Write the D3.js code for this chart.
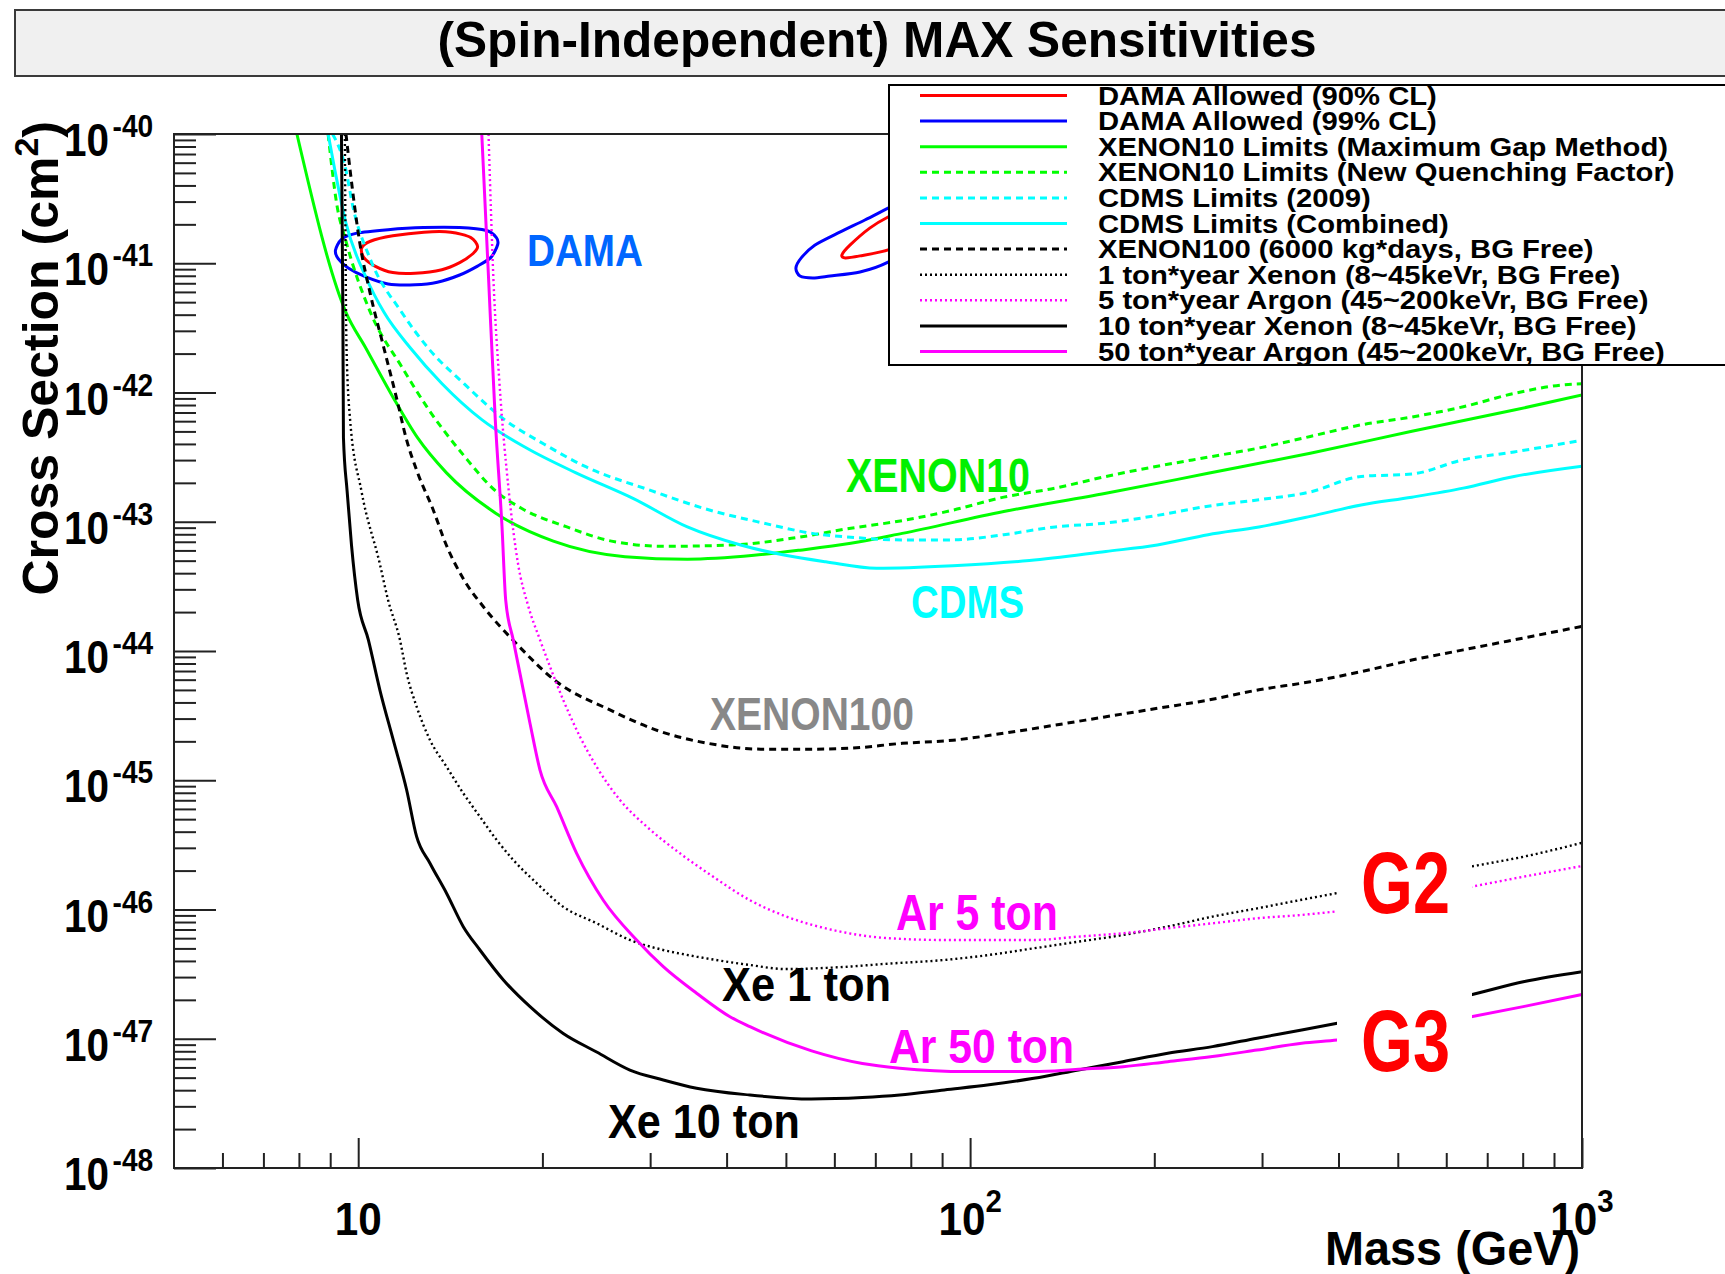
<!DOCTYPE html>
<html>
<head>
<meta charset="utf-8">
<title>(Spin-Independent) MAX Sensitivities</title>
<script src="https://cdn.jsdelivr.net/npm/d3@7"></script>
<style>
html,body{margin:0;padding:0;background:#fff;}
svg{display:block;}
text{font-family:"Liberation Sans",Arial,Helvetica,sans-serif;font-weight:bold;}
</style>
</head>
<body>
<svg id="chart" width="1725" height="1274"></svg>
<script>
// ================= DATA (mass in GeV, cross section in cm^2) =================
const titleText = "(Spin-Independent) MAX Sensitivities";
const xAxisTitle = "Mass (GeV)";
const yAxisTitleMain = "Cross Section (cm";
const yAxisTitleSup = "2";

const xDomain = [5, 1000];
const yDomain = [1e-48, 1e-40];
const xMajorTicks = [10, 100, 1000];
const xMajorLabels = ["10", "10", "10"];
const xMajorSups = ["", "2", "3"];
const xMinorTicks = [6, 7, 8, 9, 20, 30, 40, 50, 60, 70, 80, 90, 200, 300, 400, 500, 600, 700, 800, 900];
const yExponents = [-40, -41, -42, -43, -44, -45, -46, -47, -48];

// DAMA allowed regions (closed contours)
const damaLow90Mass  = [10.13, 10.47, 11.39, 12.81, 14.17, 15.28, 15.67, 15.41, 14.65, 13.70, 12.39, 11.39, 10.65, 10.21];
const damaLow90Sigma = [1.31e-41, 1.48e-41, 1.63e-41, 1.74e-41, 1.74e-41, 1.58e-41, 1.35e-41, 1.19e-41, 1.01e-41, 8.91e-42, 8.36e-42, 8.47e-42, 9.51e-42, 1.11e-41];
const damaLow99Mass  = [9.18, 9.39, 9.95, 11.19, 12.79, 14.65, 16.21, 16.82, 16.90, 16.48, 15.67, 14.65, 13.47, 12.39, 11.19, 10.29, 9.63, 9.28];
const damaLow99Sigma = [1.26e-41, 1.53e-41, 1.71e-41, 1.82e-41, 1.89e-41, 1.89e-41, 1.79e-41, 1.58e-41, 1.39e-41, 1.11e-41, 9.51e-42, 8.11e-42, 7.13e-42, 6.82e-42, 6.92e-42, 7.85e-42, 9.20e-42, 1.08e-41];
const damaHigh90Mass  = [61.73, 63.62, 68.55, 73.45, 81.28, 83.18, 79.43, 73.45, 66.07, 62.52];
const damaHigh90Sigma = [1.16e-41, 1.38e-41, 1.87e-41, 2.28e-41, 2.82e-41, 2.40e-41, 1.58e-41, 1.27e-41, 1.14e-41, 1.10e-41];
const damaHigh99Mass  = [51.92, 52.97, 55.72, 61.24, 67.30, 73.45, 85.11, 91.20, 91.20, 85.11, 73.45, 66.07, 59.02, 55.34, 52.72];
const damaHigh99Sigma = [9.18e-42, 1.10e-41, 1.38e-41, 1.74e-41, 2.16e-41, 2.67e-41, 3.80e-41, 3.98e-41, 2.82e-41, 1.58e-41, 1.02e-41, 8.55e-42, 7.96e-42, 7.69e-42, 7.96e-42];

// XENON10 limits (maximum gap method)
const xe10Mass  = [7.94, 9.55, 10.30, 11.38, 12.50, 13.93, 16.75, 20.84, 27.29, 34.51, 44.36, 52.72, 63.83, 77.45, 113.5, 166.7, 244.9, 359.7, 527.2, 774.5, 1000];
const xe10Sigma = [1.0e-40, 4.17e-42, 2.19e-42, 9.33e-43, 4.47e-43, 2.40e-43, 1.17e-43, 7.08e-44, 5.37e-44, 5.13e-44, 5.50e-44, 6.03e-44, 6.81e-44, 8.13e-44, 1.20e-43, 1.66e-43, 2.37e-43, 3.39e-43, 5.01e-43, 7.31e-43, 9.55e-43];

// XENON10 limits (new quenching factor)
const xe10nqMass  = [8.93, 9.23, 9.55, 10.47, 11.78, 13.03, 14.89, 16.75, 18.54, 21.93, 25.94, 31.70, 40.83, 52.48, 63.83, 77.45, 93.76, 113.5, 137.7, 166.7, 202.3, 244.9, 296.5, 359.7, 435.5, 527.2, 639.7, 774.5, 937.6, 1000];
const xe10nqSigma = [1.0e-40, 2.82e-41, 1.48e-41, 4.17e-42, 1.58e-42, 7.41e-43, 3.24e-43, 1.74e-43, 1.26e-43, 9.12e-44, 7.08e-44, 6.46e-44, 6.61e-44, 7.59e-44, 8.91e-44, 1.02e-43, 1.23e-43, 1.55e-43, 1.82e-43, 2.24e-43, 2.69e-43, 3.16e-43, 3.72e-43, 4.57e-43, 5.62e-43, 6.46e-43, 7.76e-43, 9.84e-43, 1.15e-42, 1.17e-42];

// CDMS limits (2009)
const cdms09Mass  = [9.08, 9.55, 9.79, 10.47, 11.78, 13.03, 14.89, 17.34, 20.14, 23.44, 30.13, 36.90, 45.92, 55.21, 63.83, 77.45, 93.76, 113.5, 137.7, 166.7, 202.3, 244.9, 296.5, 359.7, 435.5, 527.2, 639.7, 774.5, 1000];
const cdms09Sigma = [1.0e-40, 5.25e-41, 2.82e-41, 1.07e-41, 4.17e-42, 2.19e-42, 1.17e-42, 6.17e-43, 3.98e-43, 2.69e-43, 1.74e-43, 1.26e-43, 9.77e-44, 8.13e-44, 7.59e-44, 7.24e-44, 7.24e-44, 7.94e-44, 9.12e-44, 9.77e-44, 1.12e-43, 1.32e-43, 1.48e-43, 1.70e-43, 2.24e-43, 2.34e-43, 3.02e-43, 3.47e-43, 4.27e-43];

// CDMS limits (combined)
const cdmsMass  = [8.93, 9.16, 9.55, 10.30, 11.02, 12.19, 13.71, 15.92, 18.84, 22.65, 28.18, 34.51, 42.17, 49.89, 58.08, 70.31, 93.76, 125.0, 166.7, 202.3, 244.9, 296.5, 359.7, 435.5, 527.2, 639.7, 774.5, 1000];
const cdmsSigma = [1.0e-40, 5.25e-41, 2.04e-41, 7.76e-42, 4.17e-42, 2.19e-42, 1.17e-42, 6.17e-43, 3.72e-43, 2.40e-43, 1.51e-43, 9.12e-44, 6.61e-44, 5.50e-44, 4.90e-44, 4.37e-44, 4.57e-44, 5.01e-44, 5.89e-44, 6.61e-44, 7.94e-44, 9.12e-44, 1.10e-43, 1.35e-43, 1.55e-43, 1.82e-43, 2.24e-43, 2.69e-43];

// XENON100 (6000 kg*days, BG free)
const xe100Mass  = [9.55, 9.70, 10.05, 10.47, 11.02, 11.59, 11.97, 12.50, 13.24, 13.93, 14.89, 16.03, 18.20, 21.13, 25.59, 30.97, 37.50, 45.50, 55.08, 63.83, 77.45, 93.76, 113.5, 137.7, 166.7, 202.3, 244.9, 296.5, 359.7, 435.5, 527.2, 639.7, 774.5, 1000];
const xe100Sigma = [1.0e-40, 5.25e-41, 1.48e-41, 5.75e-42, 2.19e-42, 8.51e-43, 4.47e-43, 2.40e-43, 1.26e-43, 6.61e-44, 3.55e-44, 2.19e-44, 1.12e-44, 5.75e-45, 3.56e-45, 2.41e-45, 1.92e-45, 1.74e-45, 1.74e-45, 1.77e-45, 1.93e-45, 2.04e-45, 2.31e-45, 2.67e-45, 3.10e-45, 3.60e-45, 4.17e-45, 5.01e-45, 5.78e-45, 6.92e-45, 8.51e-45, 1.02e-44, 1.22e-44, 1.55e-44];

// 1 ton*year Xenon
const xe1tMass  = [9.51, 9.57, 9.70, 10.12, 10.84, 11.19, 11.70, 12.00, 12.46, 13.10, 13.95, 14.85, 15.81, 16.84, 17.92, 19.57, 21.63, 24.53, 27.80, 31.52, 35.73, 43.67, 50.00, 60.67, 73.45, 90.78, 107.4, 127.1, 150.3, 177.8, 210.4, 248.9, 294.4, 348.3, 394.5, 659.2, 805.4, 1000];
const xe1tSigma = [1.0e-40, 2.19e-42, 6.17e-43, 1.74e-43, 4.79e-44, 2.48e-44, 1.22e-44, 6.71e-45, 3.71e-45, 2.05e-45, 1.27e-45, 7.93e-46, 5.22e-46, 3.45e-46, 2.42e-46, 1.60e-46, 1.05e-46, 7.82e-47, 5.81e-47, 4.86e-47, 4.32e-47, 3.72e-47, 3.46e-47, 3.57e-47, 3.81e-47, 4.07e-47, 4.45e-47, 5.01e-47, 5.64e-47, 6.35e-47, 7.38e-47, 8.81e-47, 1.02e-46, 1.19e-46, 1.33e-46, 2.15e-46, 2.57e-46, 3.28e-46];

// 5 ton*year Argon
const ar5tMass  = [16.33, 16.63, 17.02, 17.62, 18.24, 18.94, 19.82, 20.58, 21.63, 23.04, 24.53, 26.78, 29.61, 33.56, 38.05, 43.67, 50.00, 60.67, 73.45, 90.78, 127.1, 150.3, 177.8, 210.4, 248.9, 294.4, 348.3, 394.5, 659.2, 805.4, 1000];
const ar5tSigma = [1.0e-40, 7.76e-42, 1.17e-42, 1.74e-43, 4.79e-44, 2.27e-44, 1.22e-44, 7.57e-45, 4.18e-45, 2.17e-45, 1.27e-45, 7.03e-46, 4.38e-46, 2.72e-46, 1.79e-46, 1.18e-46, 8.85e-47, 6.82e-47, 6.00e-47, 5.81e-47, 5.81e-47, 6.17e-47, 6.55e-47, 7.16e-47, 7.82e-47, 8.55e-47, 9.08e-47, 9.64e-47, 1.50e-46, 1.80e-46, 2.17e-46];

// 10 ton*year Xenon
const xe10tMass  = [9.39, 9.44, 9.46, 9.59, 9.75, 9.98, 10.39, 10.85, 11.41, 12.00, 12.46, 13.10, 13.95, 14.85, 15.81, 17.27, 19.09, 21.63, 24.53, 27.80, 31.52, 35.73, 43.67, 55.00, 66.68, 76.74, 90.78, 107.4, 127.1, 150.3, 177.8, 210.4, 248.9, 294.4, 348.3, 398.1, 659.2, 805.4, 1000];
const xe10tSigma = [1.0e-40, 4.17e-42, 4.47e-43, 1.74e-43, 6.61e-44, 2.48e-44, 1.22e-44, 4.99e-45, 2.05e-45, 8.41e-46, 3.66e-46, 2.28e-46, 1.33e-46, 7.36e-47, 4.86e-47, 2.85e-47, 1.77e-47, 1.10e-47, 7.90e-48, 5.73e-48, 4.80e-48, 4.14e-48, 3.67e-48, 3.42e-48, 3.51e-48, 3.67e-48, 4.02e-48, 4.40e-48, 4.94e-48, 5.74e-48, 6.65e-48, 7.73e-48, 8.69e-48, 1.01e-47, 1.17e-47, 1.32e-47, 2.19e-47, 2.77e-47, 3.30e-47];

// 50 ton*year Argon
const ar50tMass  = [15.92, 16.33, 16.75, 17.18, 17.42, 17.92, 18.38, 19.09, 19.82, 21.10, 22.75, 25.15, 28.51, 31.52, 35.73, 40.51, 43.67, 55.08, 66.68, 76.74, 98.86, 127.1, 150.3, 177.8, 210.4, 248.9, 294.4, 348.3, 398.1, 659.2, 805.4, 1000];
const ar50tSigma = [1.0e-40, 7.76e-42, 6.17e-43, 9.12e-44, 2.48e-44, 1.22e-44, 6.71e-45, 2.75e-45, 1.20e-45, 6.24e-46, 2.72e-46, 1.18e-46, 5.81e-47, 3.61e-47, 2.25e-47, 1.48e-47, 1.24e-47, 8.05e-48, 6.43e-48, 5.92e-48, 5.57e-48, 5.57e-48, 5.81e-48, 6.08e-48, 6.65e-48, 7.28e-48, 8.18e-48, 9.23e-48, 9.77e-48, 1.48e-47, 1.78e-47, 2.20e-47];

const legendLabels = [
  "DAMA Allowed (90% CL)",
  "DAMA Allowed (99% CL)",
  "XENON10 Limits (Maximum Gap Method)",
  "XENON10 Limits (New Quenching Factor)",
  "CDMS Limits (2009)",
  "CDMS Limits (Combined)",
  "XENON100 (6000 kg*days, BG Free)",
  "1 ton*year Xenon (8~45keVr, BG Free)",
  "5 ton*year Argon (45~200keVr, BG Free)",
  "10 ton*year Xenon (8~45keVr, BG Free)",
  "50 ton*year Argon (45~200keVr, BG Free)"
];
const curveLabels = ["DAMA", "XENON10", "CDMS", "XENON100", "Ar 5 ton", "Xe 1 ton", "Ar 50 ton", "Xe 10 ton"];
const groupLabels = ["G2", "G3"];

// ================= STYLES / LAYOUT =================
const RED = "#ff0000", BLUE = "#0000ff", GREEN = "#00ff00", CYAN = "#00ffff", MAG = "#ff00ff", BLK = "#000000";
const lineStyles = [
  {color: RED,   width: 3,   dash: null},
  {color: BLUE,  width: 3,   dash: null},
  {color: GREEN, width: 3,   dash: null},
  {color: GREEN, width: 3,   dash: "7,5"},
  {color: CYAN,  width: 3,   dash: "7,5"},
  {color: CYAN,  width: 3,   dash: null},
  {color: BLK,   width: 3,   dash: "7,5"},
  {color: BLK,   width: 2.4, dash: "2,3"},
  {color: MAG,   width: 2.4, dash: "2,3"},
  {color: BLK,   width: 3,   dash: null},
  {color: MAG,   width: 3,   dash: null}
];

const X0 = 174, X1 = 1582, Y0 = 134, Y1 = 1168;
const svg = d3.select("#chart");
const x = d3.scaleLog().domain(xDomain).range([X0, X1]);
const y = d3.scaleLog().domain(yDomain).range([Y1, Y0]);
const zip = (a, b) => a.map((v, i) => [v, b[i]]);

// ---- title box ----
svg.append("rect").attr("x", 15).attr("y", 10).attr("width", 1740).attr("height", 66)
  .attr("fill", "#f0f0f0").attr("stroke", "#3a3a3a").attr("stroke-width", 2);
svg.append("text").attr("x", 877).attr("y", 57).attr("text-anchor", "middle")
  .attr("font-size", 50).attr("fill", "#000")
  .attr("textLength", 879).attr("lengthAdjust", "spacingAndGlyphs").text(titleText);

// ---- clip ----
svg.append("defs").append("clipPath").attr("id", "plotclip")
  .append("rect").attr("x", X0).attr("y", Y0).attr("width", X1 - X0).attr("height", Y1 - Y0);

const plot = svg.append("g").attr("clip-path", "url(#plotclip)");
const openLine = d3.line().x(d => x(d[0])).y(d => y(d[1])).curve(d3.curveMonotoneX);
const closedLine = d3.line().x(d => x(d[0])).y(d => y(d[1])).curve(d3.curveCardinalClosed.tension(0.2));

function styled(path, st) {
  path.attr("fill", "none").attr("stroke", st.color).attr("stroke-width", st.width)
    .attr("stroke-linejoin", "round");
  if (st.dash) path.attr("stroke-dasharray", st.dash);
  return path;
}

// DAMA contours
[[damaLow99Mass, damaLow99Sigma, 1], [damaHigh99Mass, damaHigh99Sigma, 1],
 [damaLow90Mass, damaLow90Sigma, 0], [damaHigh90Mass, damaHigh90Sigma, 0]].forEach(([m, s, k]) => {
  styled(plot.append("path").attr("d", closedLine(zip(m, s))), lineStyles[k]);
});

// limit curves
const limitCurves = [
  [xe10Mass, xe10Sigma, 2],
  [xe10nqMass, xe10nqSigma, 3],
  [cdms09Mass, cdms09Sigma, 4],
  [cdmsMass, cdmsSigma, 5],
  [xe100Mass, xe100Sigma, 6],
  [xe1tMass, xe1tSigma, 7],
  [ar5tMass, ar5tSigma, 8],
  [xe10tMass, xe10tSigma, 9],
  [ar50tMass, ar50tSigma, 10]
];
limitCurves.forEach(([m, s, k]) => {
  styled(plot.append("path").attr("d", openLine(zip(m, s))), lineStyles[k]);
});

// ---- in-plot labels ----
const labelLayout = [
  {color: "#0066ff", x: 527, y: 266, size: 45, w: 116},
  {color: "#00f000", x: 846, y: 492, size: 49, w: 184},
  {color: "#00ffff", x: 911, y: 618, size: 46, w: 113},
  {color: "#888888", x: 710, y: 730, size: 46, w: 204},
  {color: "#ff00ff", x: 896, y: 930, size: 50, w: 162},
  {color: "#000000", x: 722, y: 1001, size: 49, w: 169},
  {color: "#ff00ff", x: 889, y: 1063, size: 49, w: 185},
  {color: "#000000", x: 608, y: 1138, size: 49, w: 192}
];
curveLabels.forEach((t, i) => {
  const L = labelLayout[i];
  svg.append("text").attr("x", L.x).attr("y", L.y).attr("font-size", L.size)
    .attr("fill", L.color).attr("textLength", L.w).attr("lengthAdjust", "spacingAndGlyphs").text(t);
});

// G2 / G3 with white background boxes
const groupLayout = [
  {box: [1337, 843, 135, 80], x: 1361, y: 913},
  {box: [1337, 992, 135, 88], x: 1361, y: 1071}
];
groupLabels.forEach((t, i) => {
  const G = groupLayout[i];
  svg.append("rect").attr("x", G.box[0]).attr("y", G.box[1]).attr("width", G.box[2]).attr("height", G.box[3]).attr("fill", "#fff");
  svg.append("text").attr("x", G.x).attr("y", G.y).attr("font-size", 88).attr("fill", "#ff0000")
    .attr("textLength", 89).attr("lengthAdjust", "spacingAndGlyphs").text(t);
});

// ---- axes ticks ----
function tickStyle(g) {
  g.select(".domain").remove();
  g.selectAll(".tick line").attr("stroke", "#222").attr("stroke-width", 2);
}
svg.append("g").attr("transform", `translate(0,${Y1})`)
  .call(d3.axisBottom(x).tickValues(xMinorTicks).tickSize(-15).tickFormat(() => ""))
  .call(tickStyle);
svg.append("g").attr("transform", `translate(0,${Y1})`)
  .call(d3.axisBottom(x).tickValues(xMajorTicks).tickSize(-30).tickFormat(() => ""))
  .call(tickStyle);

const yMajor = yExponents.map(e => +("1e" + e));
const yMinor = [];
yExponents.filter(e => e > -48).forEach(e => {
  for (let k = 2; k <= 9; k++) yMinor.push(+(k + "e" + (e - 1)));
});
svg.append("g").attr("transform", `translate(${X0},0)`)
  .call(d3.axisLeft(y).tickValues(yMinor).tickSize(-22).tickFormat(() => ""))
  .call(tickStyle);
svg.append("g").attr("transform", `translate(${X0},0)`)
  .call(d3.axisLeft(y).tickValues(yMajor).tickSize(-42).tickFormat(() => ""))
  .call(tickStyle);

// frame
svg.append("rect").attr("x", X0).attr("y", Y0).attr("width", X1 - X0).attr("height", Y1 - Y0)
  .attr("fill", "none").attr("stroke", "#222").attr("stroke-width", 2);

// ---- tick labels (tall, slightly narrow ROOT-style digits) ----
xMajorTicks.forEach((v, i) => {
  const t = svg.append("text").attr("transform", `translate(${x(v)},1235) scale(0.92,1)`)
    .attr("text-anchor", "middle").attr("font-size", 46).attr("fill", "#000");
  t.append("tspan").text(xMajorLabels[i]);
  if (xMajorSups[i]) t.append("tspan").attr("font-size", 32).attr("dy", -23).text(xMajorSups[i]);
});
yExponents.forEach((e, i) => {
  const py = y(yMajor[i]);
  const t = svg.append("text").attr("transform", `translate(64,${py + 22}) scale(0.88,1)`)
    .attr("font-size", 46).attr("fill", "#000");
  t.append("tspan").text("10");
  t.append("tspan").attr("font-size", 32).attr("dx", 4).attr("dy", -19).text(String(e));
});

// axis titles
svg.append("text").attr("x", 1580).attr("y", 1265).attr("text-anchor", "end")
  .attr("font-size", 49).attr("fill", "#000")
  .attr("textLength", 255).attr("lengthAdjust", "spacingAndGlyphs").text(xAxisTitle);
const yt = svg.append("text").attr("transform", "translate(58,121) rotate(-90)")
  .attr("text-anchor", "end").attr("font-size", 50).attr("fill", "#000");
yt.append("tspan").text(yAxisTitleMain);
yt.append("tspan").attr("font-size", 34).attr("dy", -20).text(yAxisTitleSup);
yt.append("tspan").attr("dy", 20).text(")");

// ---- legend ----
const lg = svg.append("g");
lg.append("rect").attr("x", 889).attr("y", 85).attr("width", 900).attr("height", 280)
  .attr("fill", "#fff").attr("stroke", "#000").attr("stroke-width", 2);
legendLabels.forEach((lab, i) => {
  const ry = 95.5 + i * 25.6;
  styled(lg.append("line").attr("x1", 920).attr("x2", 1067).attr("y1", ry).attr("y2", ry), lineStyles[i]);
  lg.append("text").attr("transform", `translate(1098,${ry + 9}) scale(1.17,1)`)
    .attr("font-size", 25).attr("fill", "#000").text(lab);
});
</script>
</body>
</html>
